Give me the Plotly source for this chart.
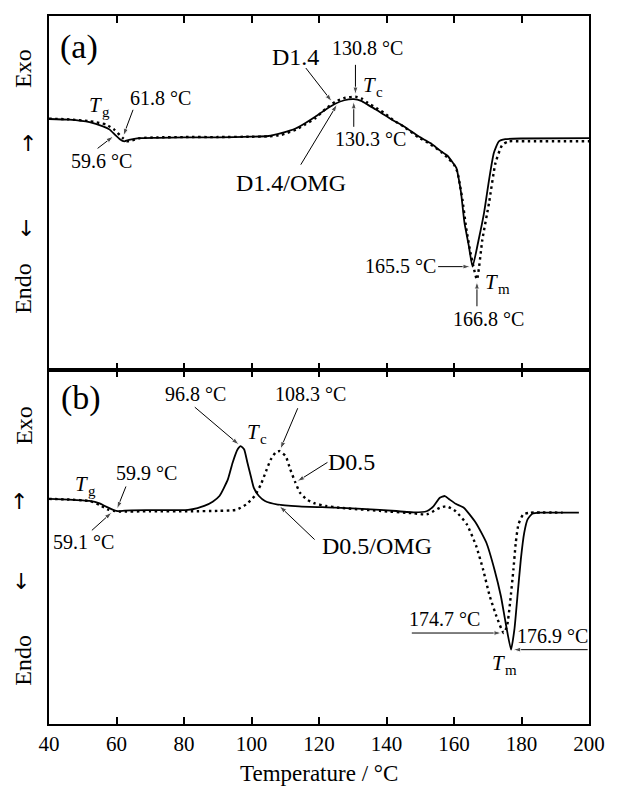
import numpy as np
import plotly.graph_objects as go

# ---- DSC traces (temperature in °C, heat flow in arbitrary units, exo up) ----
# (a) D1.4/OMG (solid) and D1.4 (dotted)
t_a_omg = [40, 46, 52, 56, 58, 59.6, 61, 62.3, 63.7, 66.6, 72, 80, 90, 100, 105,
           108.8, 113.2, 116, 119, 122, 124.8, 127.5, 130.3, 132.5, 134.5, 137,
           139.3, 142, 145.2, 149.5, 153, 156, 158, 159.7, 160.7, 161.5, 162.1,
           163.1, 164.4, 165.5, 167.3, 168.9, 170.4, 171.8, 173.3, 175.2, 180, 200]
q_a_omg = [70.9, 70.7, 70.0, 68.8, 67.9, 66.4, 65.2, 64.6, 65.0, 65.5, 65.6, 65.7,
           65.7, 65.9, 66.1, 66.9, 68.3, 69.8, 71.6, 73.6, 75.2, 76.2, 76.5, 76.0,
           74.9, 73.5, 72.1, 70.5, 68.8, 66.0, 64.1, 61.9, 60.6, 58.5, 57.1, 53.5,
           50.0, 41.6, 35.0, 29.2, 36.8, 44.4, 53.8, 61.3, 64.6, 65.2, 65.4, 65.5]

t_a_neat = [40, 46, 52, 57, 59.3, 61.8, 63.2, 64.5, 67, 72, 80, 90, 100, 105,
            108.8, 113.2, 116, 119, 122, 124.8, 127.8, 130.8, 132.8, 134.5, 137,
            139.3, 142, 145.2, 149.5, 153, 156.3, 158.5, 160, 161, 161.8, 162.5,
            163.6, 165, 166.8, 168.4, 170.4, 172.3, 174.3, 176.2, 180, 200]
q_a_neat = [71.0, 70.8, 70.3, 69.3, 67.9, 65.6, 64.6, 64.8, 65.5, 65.7, 65.8, 65.8,
            65.9, 66.0, 66.4, 67.9, 69.4, 71.2, 73.8, 75.8, 76.9, 77.2, 76.6, 75.4,
            74.0, 72.6, 70.6, 68.7, 65.7, 63.8, 61.5, 59.6, 58.0, 56.0, 52.0, 48.1,
            40.2, 32.6, 25.6, 36.8, 47.3, 58.5, 63.6, 64.6, 64.6, 64.6]

# (b) D0.5/OMG (solid) and D0.5 (dotted)
t_b_omg = [40, 46, 52, 55, 56.9, 58.5, 59.9, 61, 62.5, 70, 81.2, 84, 86, 88.5,
           90.5, 93.0, 94.4, 95.9, 96.8, 97.8, 98.8, 99.8, 100.7, 102.2, 104.0,
           107.8, 114.1, 124.8, 138, 148.1, 151.9, 153.9, 155.8, 157.3, 158.7,
           160.5, 162.9, 166.5, 169.6, 172.0, 173.9, 175.3, 176.9, 177.9, 178.8,
           179.8, 180.8, 181.8, 183.2, 185.5, 197]
q_b_omg = [63.6, 63.4, 63.0, 62.3, 61.4, 60.7, 60.2, 60.1, 60.3, 60.4, 60.5, 61.0,
           61.6, 62.8, 64.4, 69.1, 73.8, 77.6, 78.5, 77.6, 73.8, 70.0, 66.7, 64.4,
           63.0, 62.0, 61.5, 61.1, 60.5, 59.8, 60.1, 61.5, 63.9, 64.4, 63.4, 62.2,
           61.1, 56.8, 51.2, 43.6, 36.1, 28.6, 21.0, 26.7, 36.1, 46.5, 54.0, 57.8,
           59.4, 59.7, 59.7]

t_b_neat = [40, 46, 52, 55, 57.4, 59.1, 61, 70, 82.1, 90, 95.5, 98.4, 100.9,
            102.8, 104.3, 105.7, 107.2, 108.3, 110.1, 111.5, 113.0, 114.4, 116.4,
            118.8, 122, 126, 138, 148.1, 151.9, 153.9, 155.8, 157.8, 160.5, 163.8,
            166.6, 168.6, 170.6, 172.6, 174.7, 175.7, 176.6, 177.6, 178.3, 179.1,
            180.5, 182.5, 192.2]
q_b_neat = [63.6, 63.4, 63.0, 61.9, 60.6, 60.2, 60.0, 60.1, 60.1, 60.2, 60.5, 62.0,
            64.4, 67.7, 71.4, 74.7, 76.8, 77.1, 75.7, 71.9, 68.2, 65.3, 63.4, 62.3,
            61.6, 61.1, 60.2, 59.5, 59.2, 60.1, 61.1, 61.5, 60.1, 56.4, 50.2, 43.7,
            36.1, 30.4, 25.7, 27.6, 34.2, 43.6, 51.2, 56.4, 59.2, 59.7, 59.7]

# Characteristic temperatures (°C): [with OMG, neat]
tg_a = [59.6, 61.8]
tc_a = [130.3, 130.8]
tm_a = [165.5, 166.8]
tg_b = [59.9, 59.1]
tc_b = [96.8, 108.3]
tm_b = [176.9, 174.7]

x_ticks = [40, 60, 80, 100, 120, 140, 160, 180, 200]

FONT = "Liberation Serif"
BLACK = "black"


def q_at(t, ts, qs):
    return float(np.interp(t, ts, qs))


def deg(v):
    return f"{v:.1f} °C"


fig = go.Figure()

solid = dict(color=BLACK, width=1.8)
dotted = dict(color=BLACK, width=2.4, dash="2.5px,3.5px")

for ts, qs, ln, xa, ya, nm in [
    (t_a_omg, q_a_omg, solid, "x", "y", "D1.4/OMG"),
    (t_a_neat, q_a_neat, dotted, "x", "y", "D1.4"),
    (t_b_omg, q_b_omg, solid, "x2", "y2", "D0.5/OMG"),
    (t_b_neat, q_b_neat, dotted, "x2", "y2", "D0.5"),
]:
    fig.add_trace(go.Scatter(x=ts, y=qs, mode="lines", name=nm,
                             line=dict(shape="spline", smoothing=0.5, **ln),
                             xaxis=xa, yaxis=ya, showlegend=False,
                             hoverinfo="skip"))

ann = []


def text(x, y, s, size=20, ref="", **kw):
    font = dict(family=FONT, size=size, color=BLACK)
    if "style" in kw:
        font["style"] = kw.pop("style")
    ann.append(dict(x=x, y=y, xref="x" + ref, yref="y" + ref, text=s,
                    showarrow=False, font=font, xanchor=kw.pop("xanchor", "center"),
                    yanchor="middle", **kw))


def symbol(x, y, sub, ref=""):
    """Italic T with a subscript letter, drawn as two plain text pieces."""
    text(x, y, "T", size=21, ref=ref, style="italic", xanchor="right", xshift=3)
    text(x, y, sub, size=15, ref=ref, xanchor="left", xshift=-1, yshift=-7)


def arrow(x0, y0, x1, y1, ref="", standoff=2):
    """Thin pointer line from (x0, y0) ending in an arrowhead at (x1, y1)."""
    fig.add_trace(go.Scatter(
        x=[x0, x1], y=[y0, y1], mode="lines+markers",
        xaxis="x" + ref, yaxis="y" + ref, showlegend=False, hoverinfo="skip",
        line=dict(color=BLACK, width=1),
        marker=dict(symbol="arrow", size=[0, 8], angleref="previous",
                    color=BLACK, standoff=[0, standoff]),
        cliponaxis=False))


# ---- panel (a) ----
text(48.9, 91.3, "(a)", size=34)
symbol(55.3, 74.9, "g")
text(73.0, 76.9, deg(tg_a[1]))
arrow(64.9, 73.5, tg_a[1], q_at(tg_a[1], t_a_neat, q_a_neat))
text(55.6, 59.1, deg(tg_a[0]))
arrow(54.4, 62.6, tg_a[0], q_at(tg_a[0], t_a_omg, q_a_omg))

text(112.9, 88.4, "D1.4", size=24)
arrow(116.1, 85.3, 124.2, q_at(124.2, t_a_neat, q_a_neat))
text(134.4, 91.0, deg(tc_a[1]))
arrow(tc_a[1], 86.2, tc_a[1], q_at(tc_a[1], t_a_neat, q_a_neat))
symbol(136.7, 80.5, "c")
text(135.3, 65.3, deg(tc_a[0]))
arrow(tc_a[0], 68.7, tc_a[0], q_at(tc_a[0], t_a_omg, q_a_omg))
text(111.7, 52.9, "D1.4/OMG", size=24)
arrow(114.6, 58.0, 125.7, q_at(125.7, t_a_omg, q_a_omg))

text(144.2, 29.3, deg(tm_a[0]))
arrow(155.3, q_at(tm_a[0], t_a_omg, q_a_omg), tm_a[0], q_at(tm_a[0], t_a_omg, q_a_omg))
symbol(172.8, 25.0, "m")
text(170.2, 14.3, deg(tm_a[1]))
arrow(tm_a[1], 18.0, tm_a[1], q_at(tm_a[1], t_a_neat, q_a_neat))

# ---- panel (b) ----
text(49.5, 92.0, "(b)", size=34, ref="2")
symbol(51.2, 67.7, "g", ref="2")
text(69.0, 70.8, deg(tg_b[0]), ref="2")
arrow(62.8, 67.1, tg_b[0], q_at(tg_b[0], t_b_omg, q_b_omg), ref="2")
text(50.3, 51.5, deg(tg_b[1]), ref="2")
arrow(52.7, 54.7, tg_b[1], q_at(tg_b[1], t_b_neat, q_b_neat), ref="2")

text(83.5, 93.1, deg(tc_b[0]), ref="2")
arrow(83.2, 89.5, tc_b[0], q_at(tc_b[0], t_b_omg, q_b_omg), ref="2")
symbol(102.1, 82.6, "c", ref="2")
text(117.5, 93.1, deg(tc_b[1]), ref="2")
arrow(113.7, 89.2, tc_b[1], q_at(tc_b[1], t_b_neat, q_b_neat), ref="2")

text(129.5, 73.9, "D0.5", size=24, ref="2")
arrow(122.5, 73.9, 113.0, q_at(113.0, t_b_neat, q_b_neat), ref="2")
text(137.3, 50.4, "D0.5/OMG", size=24, ref="2")
arrow(118.7, 52.1, 107.8, q_at(107.8, t_b_omg, q_b_omg), ref="2")

text(157.1, 29.8, deg(tm_b[1]), ref="2")
arrow(147.5, q_at(tm_b[1], t_b_neat, q_b_neat), tm_b[1], q_at(tm_b[1], t_b_neat, q_b_neat), ref="2")
text(189.3, 24.8, deg(tm_b[0]), ref="2")
arrow(199.6, q_at(tm_b[0], t_b_omg, q_b_omg), tm_b[0], q_at(tm_b[0], t_b_omg, q_b_omg), ref="2")
symbol(174.8, 17.1, "m", ref="2")

# ---- Exo / Endo side labels with direction arrows ----
L, W, B, H = 48.5, 550.0, 724.3, 708.3


def px(xp):
    return (xp - L) / W


def py(yp):
    return (B - yp) / H


for label, xp, yp in [("Exo", 22, 68), ("Endo", 22, 288), ("Exo", 23, 425), ("Endo", 22, 660)]:
    ann.append(dict(x=px(xp), y=py(yp), xref="paper", yref="paper", text=label,
                    showarrow=False, textangle=-90,
                    font=dict(family=FONT, size=24, color=BLACK),
                    xanchor="center", yanchor="middle"))

for glyph, xp, yp in [("↑", 27, 144), ("↓", 25, 229), ("↑", 18, 502), ("↓", 20, 582)]:
    ann.append(dict(x=px(xp), y=py(yp), xref="paper", yref="paper", text=glyph,
                    showarrow=False,
                    font=dict(family="DejaVu Sans", size=22, color=BLACK),
                    xanchor="center", yanchor="middle"))

ann.append(dict(x=0.5, y=py(774), xref="paper", yref="paper",
                text="Temperature / °C", showarrow=False,
                font=dict(family=FONT, size=23, color=BLACK),
                xanchor="center", yanchor="middle"))

axis_common = dict(range=[40, 200], tickvals=x_ticks, ticks="inside", ticklen=7,
                   tickwidth=1.5, tickcolor=BLACK, showline=True, linewidth=2,
                   linecolor=BLACK, mirror="ticks", showgrid=False, zeroline=False,
                   tickfont=dict(family=FONT, size=21, color=BLACK))
yaxis_common = dict(range=[0, 100], showline=True, linewidth=2, linecolor=BLACK,
                    mirror=True, ticks="", showticklabels=False, showgrid=False,
                    zeroline=False)

fig.update_layout(
    width=617, height=788,
    margin=dict(l=48.5, r=18.5, t=16, b=63.7),
    paper_bgcolor="white", plot_bgcolor="white",
    xaxis=dict(anchor="y", showticklabels=False, **axis_common),
    yaxis=dict(domain=[0.5, 1], anchor="x", **yaxis_common),
    xaxis2=dict(anchor="y2", showticklabels=True, **axis_common),
    yaxis2=dict(domain=[0, 0.5], anchor="x2", **yaxis_common),
    annotations=ann,
    showlegend=False,
)

fig.write_html("out.html")
